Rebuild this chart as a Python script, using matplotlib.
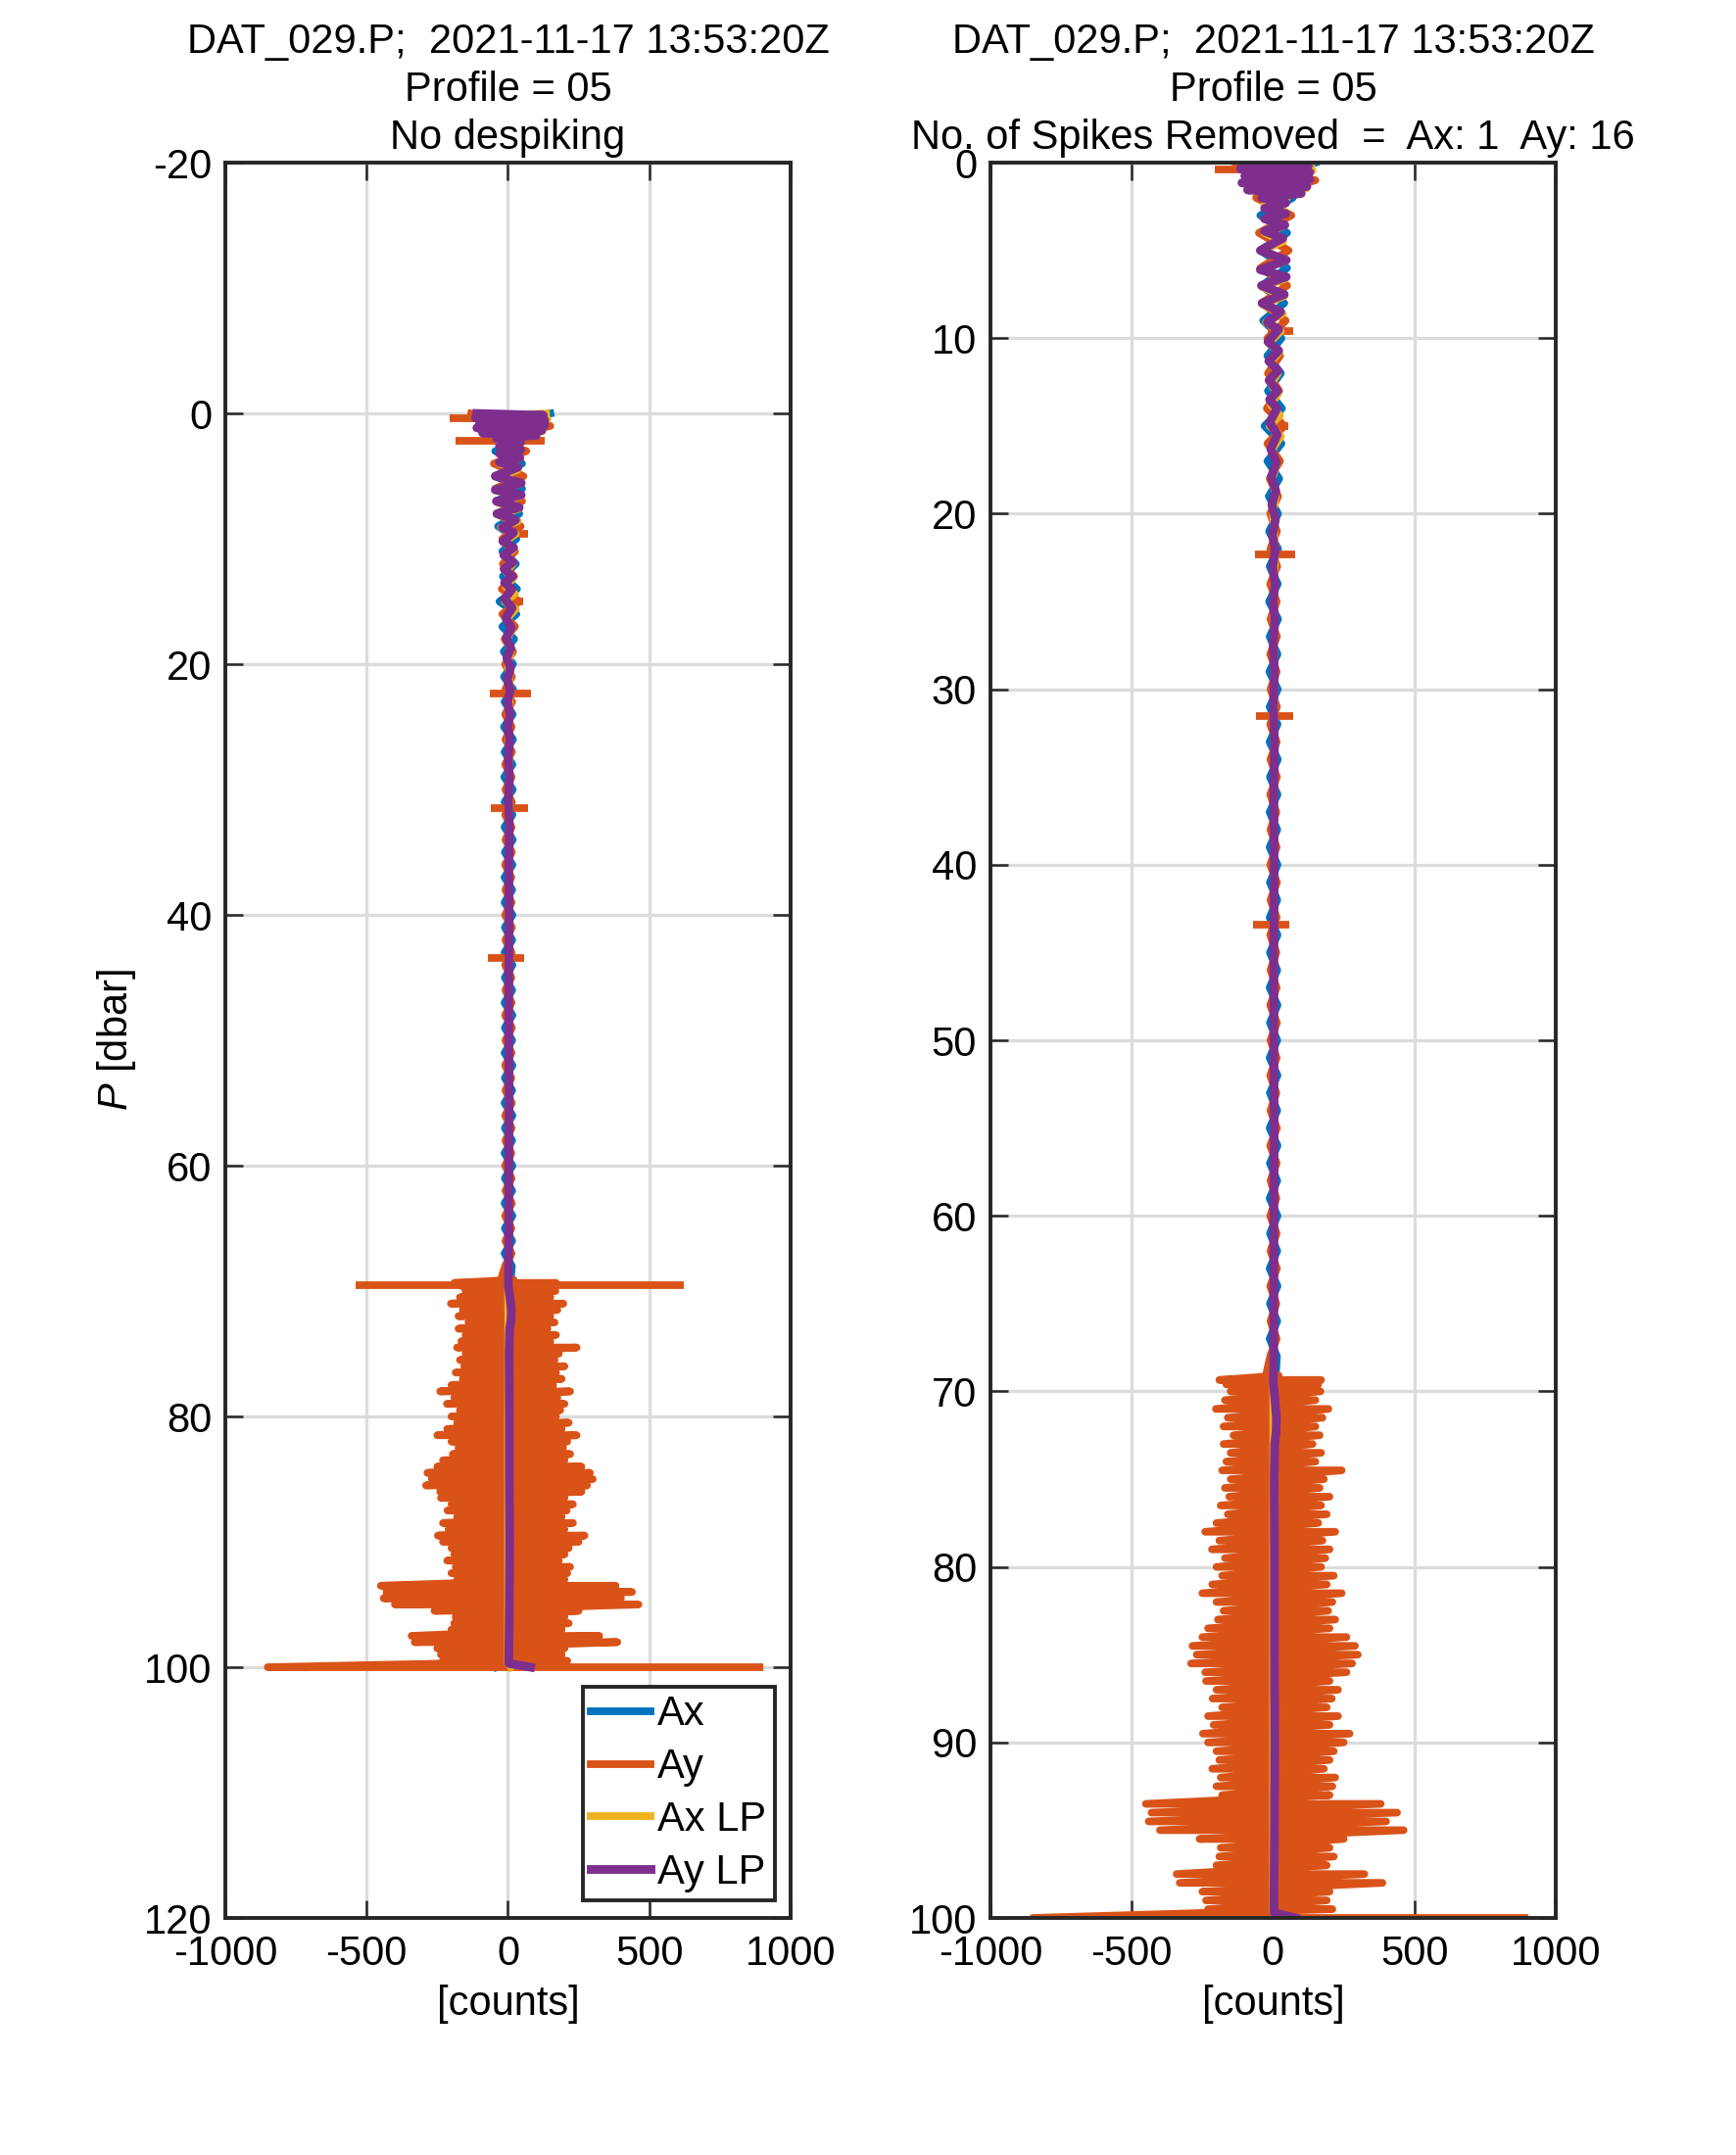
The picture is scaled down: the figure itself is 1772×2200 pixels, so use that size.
import numpy as np
import matplotlib
matplotlib.use("Agg")
import matplotlib.pyplot as plt

plt.rcParams['font.family'] = ['Liberation Sans', 'DejaVu Sans']
plt.rcParams['axes.unicode_minus'] = False
plt.rcParams['mathtext.fontset'] = 'custom'
plt.rcParams['mathtext.it'] = 'Liberation Sans:italic'
plt.rcParams['mathtext.rm'] = 'Liberation Sans'

# colours (matlab default order)
c_ax, c_ay, c_axlp, c_aylp = '#0072BD', '#D95319', '#EDB120', '#7E2F8E'
FS = 15

# ---- data ----
# Ax raw, one value per dbar, 0..100
ax_p = np.arange(0, 101)
ax_raw = [150, -90, 70, -45, 50, -45, 50, -40, 40, -35, 30, -20, 28, -18, 32, -30, 30, -20, 22, -15,
          18, -14, 18, -12, 17, -14, 18, -12, 16, -13, 17, -12, 16, -12, 17, -11, 16, -12, 15, -12,
          16, -11, 15, -12, 16, -11, 15, -12, 16, -11, 15, -12, 16, -11, 15, -12, 16, -11, 15, -12,
          16, -11, 15, -12, 16, -11, 15, -12, 14,
          10, -60, 70, -80, 60, -70, 80, -60, 70, -90, 80, -70, 90, -80, 70, -100,
          90, -80, 70, -90, 80, -70, 90, -110, 100, -120, 80, -90, 100, -110, 90, -40]

# Ay raw, upper quiet part, one value per dbar, 0..68
ay_top_p = np.arange(0, 69)
ay_top = [-130, 150, -60, 65, -50, 55, -45, 50, -40, 45, -20, 25, -18, 22, -22, 40, -20, 25, -12, 18,
          -10, 14, -9, 15, -10, 13, -9, 14, -10, 13, -9, 14, -10, 13, -9, 14, -10, 12, -9, 13,
          -10, 14, -9, 13, -10, 12, -9, 13, -10, 14, -9, 13, -10, 12, -9, 14, -10, 13, -9, 12,
          -10, 13, -9, 14, -10, 12, -9, 13, -10]

# Ay raw, noisy lower part: min / max of the trace at each level
ay_noise_p = [69.1, 69.35, 69.6, 70.0, 70.5, 71.0, 71.5, 72.0, 72.5, 73.0, 73.5, 74.0, 74.5, 75.0, 75.5,
              76.0, 76.5, 77.0, 77.5, 78.0, 78.5, 79.0, 79.5, 80.0, 80.5, 81.0, 81.5, 82.0, 82.5, 83.0,
              83.5, 84.0, 84.5, 85.0, 85.5, 86.0, 86.5, 87.0, 87.5, 88.0, 88.5, 89.0, 89.5, 90.0, 90.5,
              91.0, 91.5, 92.0, 92.5, 93.0, 93.5, 94.0, 94.5, 95.0, 95.5, 96.0, 96.5, 97.0, 97.5, 98.0,
              98.5, 99.0, 99.5, 100.0]
ay_noise_lo = [-25, -190, -165, -150, -170, -202, -160, -175, -140, -175, -150, -165, -180, -150, -170,
               -155, -185, -160, -200, -240, -190, -216, -170, -200, -180, -215, -250, -200, -175, -195,
               -230, -250, -285, -270, -290, -240, -237, -200, -214, -180, -230, -210, -248, -230, -200,
               -190, -215, -185, -200, -180, -450, -430, -440, -400, -260, -185, -190, -200, -341, -330,
               -250, -237, -230, -850]
ay_noise_hi = [20, 170, 160, 168, 150, 196, 175, 150, 165, 140, 170, 150, 243, 180, 165,
               200, 170, 190, 160, 220, 175, 200, 185, 170, 215, 190, 243, 210, 195, 220,
               200, 260, 290, 300, 280, 260, 200, 230, 208, 190, 230, 200, 271, 250, 215,
               200, 180, 220, 210, 200, 381, 439, 400, 462, 250, 200, 215, 190, 323, 387,
               200, 190, 210, 890]

# isolated Ay spikes left in by despiking : level, min, max
spike_p = [0.4, 9.6, 15.0, 22.3, 31.5, 43.4]
spike_lo = [-205, -20, -20, -65, -60, -72]
spike_hi = [60, 70, 55, 80, 70, 58]
# spikes taken out by despiking
raw_spike_p = [2.2, 69.5]
raw_spike_lo = [-185, -540]
raw_spike_hi = [130, 624]

# low-passed Ax
axlp_p = [0.0, 0.2, 0.45, 0.7, 0.95, 1.2, 1.45, 1.7, 2.0, 2.4, 2.8, 3.2, 3.6, 4.0, 4.5, 5.0, 5.6, 6.1,
          6.6, 7.1, 7.6, 8.1, 8.6, 9.1, 9.6, 10.3, 10.8, 11.4, 12.0, 12.6, 13.2, 13.8, 14.4, 15.0, 15.6,
          16.4, 17.2, 18.0, 19.0, 20.0, 22.0, 25.0, 30.0, 40.0, 50.0, 60.0, 68.0, 69.5, 72.0, 80.0,
          90.0, 99.7, 100.0]
axlp = [135, -60, 140, -70, 130, -60, 120, -40, 50, -30, 45, -25, 40, -30, 35, -40, 45, -40,
        45, -38, 40, -35, 35, -25, 28, -15, 22, -10, 18, -8, 17, -8, 25, -12, 28,
        -5, 14, -3, 10, 0, 8, 2, 5, 3, 3, 2, 2, 0, 1, 0,
        0, 0, 10]

# low-passed Ay
aylp_p = [0.0, 0.15, 0.35, 0.55, 0.75, 0.95, 1.15, 1.35, 1.55, 1.75, 2.0, 2.3, 2.6, 2.9, 3.2, 3.55,
          3.9, 4.3, 5.0, 5.55, 6.1, 6.5, 7.0, 7.5, 8.0, 8.5, 9.1, 9.5, 10.2, 10.7, 11.3, 11.85, 12.4,
          13.0, 13.5, 14.0, 14.8, 15.5, 16.3, 17.1, 17.9, 18.7, 19.5, 20.3, 21.2, 22.1, 23.0, 24.0,
          25.0, 26.0, 27.5, 29.0, 31.0, 33.0, 36.0, 40.0, 45.0, 50.0, 55.0, 60.0, 65.0, 68.5, 69.5,
          70.5, 71.5, 72.3, 73.0, 75.0, 80.0, 85.0, 90.0, 95.0, 99.7, 100.0]
aylp = [-110, 125, -115, 130, -100, 130, -110, 120, -90, 100, -40, 45, -30, 45, -30, 42,
        -30, 35, -45, 47, -45, 47, -41, 40, -39, 27, -20, 20, -18, 20, -15, 18, -14,
        16, -12, 14, -12, 15, -8, 12, -6, 10, -4, 9, -2, 8, -1, 7,
        0, 6, 1, 5, 2, 5, 3, 4, 3, 3, 4, 3, 3, 2, 1,
        7, 12, 11, 6, 4, 5, 5, 6, 5, 3, 80]


def zigzag(levels, lo, hi):
    xs, ys = [], []
    for p, a, b in zip(levels, lo, hi):
        xs += [a, b]
        ys += [p, p]
    return xs, ys


zx, zy = zigzag(ay_noise_p, ay_noise_lo, ay_noise_hi)
ay_x = list(ay_top) + zx
ay_y = list(ay_top_p) + zy

W = 2.8
fig = plt.figure(figsize=(8.86, 11.0), dpi=200)
ax1 = fig.add_axes([0.1298, 0.110, 0.3256, 0.8145])
ax2 = fig.add_axes([0.5705, 0.110, 0.3256, 0.8145])

for k, ax in enumerate([ax1, ax2]):
    ax.plot(ax_raw, ax_p, color=c_ax, lw=W, label='Ax', zorder=2)
    ax.plot(ay_x, ay_y, color=c_ay, lw=W, label='Ay', zorder=2)
    sp = list(zip(spike_p, spike_lo, spike_hi))
    if k == 0:
        sp += list(zip(raw_spike_p, raw_spike_lo, raw_spike_hi))
    for p, a, b in sp:
        ax.plot([a, b], [p, p], color=c_ay, lw=W, solid_capstyle='butt', zorder=2)
    ax.plot(axlp, axlp_p, color=c_axlp, lw=W, label='Ax LP', zorder=2)
    ax.plot(aylp, aylp_p, color=c_aylp, lw=3.2, label='Ay LP', zorder=2)

    ax.set_xlim(-1000, 1000)
    ax.set_xticks([-1000, -500, 0, 500, 1000])
    ax.set_xlabel('[counts]', fontsize=FS, labelpad=4)
    ax.grid(True, color='#dcdcdc', lw=1.2)
    ax.set_axisbelow(True)
    ax.tick_params(direction='in', length=6.5, width=0.9, top=True, right=True,
                   colors='#262626', labelsize=FS, pad=6)
    ax.tick_params(axis='x', labelcolor='black')
    ax.tick_params(axis='y', labelcolor='black', pad=5)
    for s in ax.spines.values():
        s.set_linewidth(1.4)
        s.set_color('#262626')

ax1.set_ylim(120, -20)
ax1.set_yticks(np.arange(-20, 121, 20))
ax1.set_ylabel('$P$ [dbar]', fontsize=FS, labelpad=2)
ax1.set_title('DAT_029.P;  2021-11-17 13:53:20Z\nProfile = 05\nNo despiking',
              fontsize=FS, linespacing=1.3, pad=5)

ax2.set_ylim(100, 0)
ax2.set_yticks(np.arange(0, 101, 10))
ax2.set_title('DAT_029.P;  2021-11-17 13:53:20Z\nProfile = 05\nNo. of Spikes Removed  =  Ax: 1  Ay: 16',
              fontsize=FS, linespacing=1.3, pad=5)

leg = ax1.legend(loc='lower right', bbox_to_anchor=(0.972, 0.01), fontsize=FS,
                 fancybox=False, framealpha=1, edgecolor='#262626', borderpad=0.2,
                 handlelength=1.45, handletextpad=0.18, labelspacing=0.33, borderaxespad=0)
leg.get_frame().set_linewidth(1.4)

fig.savefig('out.png', dpi=200)
